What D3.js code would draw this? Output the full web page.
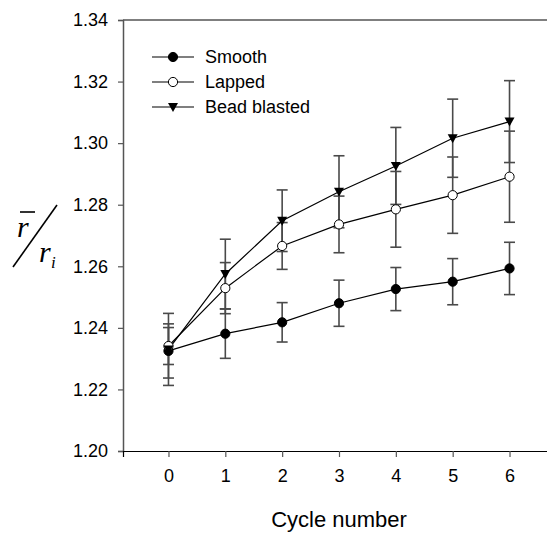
<!DOCTYPE html>
<html>
<head>
<meta charset="utf-8">
<script src="https://cdn.jsdelivr.net/npm/d3@7"></script>
<style>
  body { margin: 0; background: #fff; }
  svg { font-family: Arial, "Liberation Sans", sans-serif; }
</style>
</head>
<body>
<svg width="547" height="533"></svg>
<script>
    const cycles = [0, 1, 2, 3, 4, 5, 6];
    const smooth = [1.2325, 1.2381, 1.2418, 1.2480, 1.2526, 1.2550, 1.2593];
    const smoothErr = [0.0088, 0.0080, 0.0064, 0.0075, 0.0070, 0.0075, 0.0085];
    const lapped = [1.2341, 1.2529, 1.2666, 1.2736, 1.2785, 1.2831, 1.2891];
    const lappedErr = [0.0060, 0.0083, 0.0076, 0.0092, 0.0123, 0.0124, 0.0148];
    const bead = [1.2330, 1.2575, 1.2748, 1.2842, 1.2926, 1.3016, 1.3070];
    const beadErr = [0.0117, 0.0113, 0.0100, 0.0117, 0.0125, 0.0127, 0.0133];
    const yTicks = [1.20, 1.22, 1.24, 1.26, 1.28, 1.30, 1.32, 1.34];

    const series = [
      { name: "Smooth", values: smooth, err: smoothErr, marker: "filled" },
      { name: "Lapped", values: lapped, err: lappedErr, marker: "open" },
      { name: "Bead blasted", values: bead, err: beadErr, marker: "triangle" }
    ];

    const svg = d3.select("svg");
    const x = d3.scaleLinear().domain([-0.8, 6.8]).range([123, 555]);
    const y = d3.scaleLinear().domain([1.20, 1.34]).range([451, 20]);

    // frame: top line
    svg.append("line")
      .attr("x1", 123).attr("x2", 555)
      .attr("y1", y(1.34)).attr("y2", y(1.34))
      .attr("stroke", "#000").attr("stroke-width", 1.2);

    const yAxis = svg.append("g")
      .attr("transform", "translate(123,0)")
      .call(d3.axisLeft(y).tickValues(yTicks).tickFormat(d3.format(".2f")).tickSize(5).tickPadding(10));
    yAxis.select(".domain").attr("stroke", "#555").attr("stroke-width", 1.5);
    yAxis.selectAll(".tick line").attr("stroke", "#555").attr("stroke-width", 1.2);
    yAxis.selectAll("text").attr("font-size", 18).attr("fill", "#000")
      .attr("font-family", "Arial, 'Liberation Sans', sans-serif");

    const xAxis = svg.append("g")
      .attr("transform", `translate(0,${y(1.20)})`)
      .call(d3.axisBottom(x).tickValues(cycles).tickFormat(d3.format("d")).tickSize(6).tickPadding(12));
    xAxis.select(".domain").attr("stroke", "#000").attr("stroke-width", 1.2);
    xAxis.selectAll(".tick line").attr("stroke", "#555").attr("stroke-width", 1.2);
    xAxis.selectAll("text").attr("font-size", 18).attr("fill", "#000")
      .attr("font-family", "Arial, 'Liberation Sans', sans-serif");

    // error bars
    const capW = 5.5;
    series.forEach(s => {
      const g = svg.append("g").attr("stroke", "#4a4a4a").attr("stroke-width", 1.6);
      cycles.forEach((c, i) => {
        const hi = y(s.values[i] + s.err[i]);
        const lo = y(s.values[i] - s.err[i]);
        g.append("line").attr("x1", x(c)).attr("x2", x(c)).attr("y1", hi).attr("y2", lo);
        g.append("line").attr("x1", x(c) - capW).attr("x2", x(c) + capW).attr("y1", hi).attr("y2", hi);
        g.append("line").attr("x1", x(c) - capW).attr("x2", x(c) + capW).attr("y1", lo).attr("y2", lo);
      });
    });

    const line = d3.line().x((d, i) => x(cycles[i])).y(d => y(d));

    function drawMarker(g, type, cx, cy) {
      if (type === "triangle") {
        g.append("path")
          .attr("d", `M${cx - 5},${cy - 4} L${cx + 5},${cy - 4} L${cx},${cy + 5} Z`)
          .attr("fill", "#000");
      } else {
        g.append("circle").attr("cx", cx).attr("cy", cy).attr("r", 4.6)
          .attr("fill", type === "filled" ? "#000" : "#fff")
          .attr("stroke", "#000").attr("stroke-width", 1);
      }
    }

    series.forEach(s => {
      svg.append("path")
        .attr("d", line(s.values))
        .attr("fill", "none").attr("stroke", "#000").attr("stroke-width", 1.2);
    });
    series.forEach(s => {
      const g = svg.append("g");
      cycles.forEach((c, i) => drawMarker(g, s.marker, x(c), y(s.values[i])));
    });

    // legend
    const legend = svg.append("g");
    series.forEach((s, i) => {
      const ly = 57 + i * 25;
      legend.append("line").attr("x1", 152).attr("x2", 194).attr("y1", ly).attr("y2", ly)
        .attr("stroke", "#000").attr("stroke-width", 1.2);
      drawMarker(legend, s.marker, 173, ly);
      legend.append("text").attr("x", 205).attr("y", ly).attr("dy", "0.36em")
        .attr("font-size", 18).text(s.name);
    });

    // x label
    svg.append("text").attr("x", x(3)).attr("y", 527).attr("text-anchor", "middle")
      .attr("font-size", 22).text("Cycle number");

    // y label: r-bar / r_i
    const yl = svg.append("g").attr("font-family", "'Liberation Serif', 'DejaVu Serif', serif")
      .attr("font-style", "italic");
    yl.append("text").attr("x", 17).attr("y", 237).attr("font-size", 30).text("r");
    yl.append("line").attr("x1", 20).attr("x2", 35).attr("y1", 212).attr("y2", 212)
      .attr("stroke", "#000").attr("stroke-width", 1.6);
    yl.append("line").attr("x1", 13).attr("x2", 57).attr("y1", 267).attr("y2", 205)
      .attr("stroke", "#000").attr("stroke-width", 1.6);
    yl.append("text").attr("x", 39).attr("y", 262).attr("font-size", 30).text("r");
    yl.append("text").attr("x", 51).attr("y", 268).attr("font-size", 17).text("i");
</script>
</body>
</html>
